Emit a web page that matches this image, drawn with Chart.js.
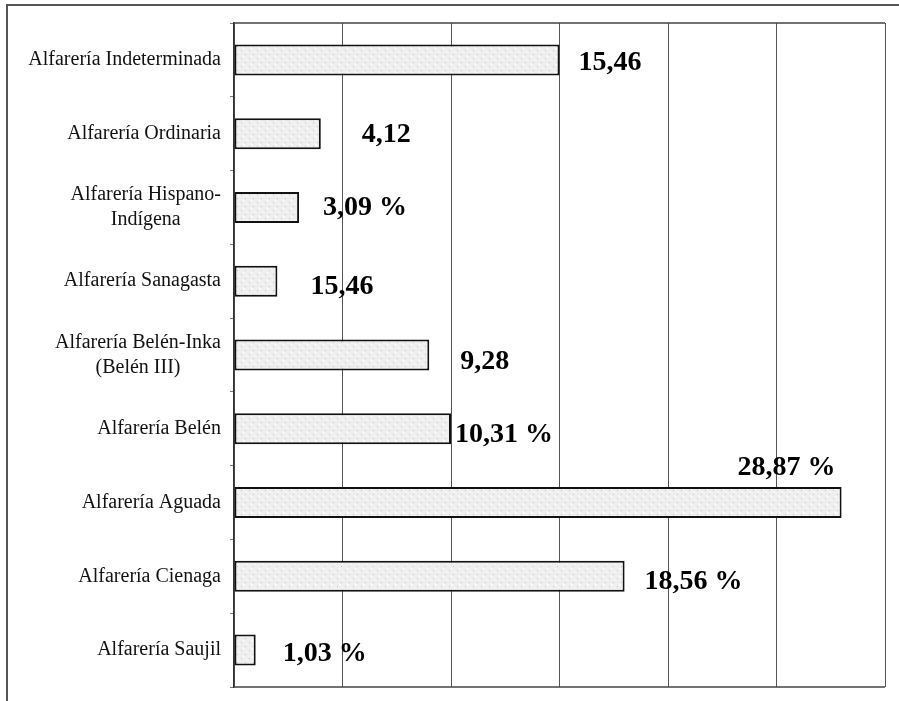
<!DOCTYPE html>
<html lang="es">
<head>
    <meta charset="UTF-8">
    <title>Alfarería</title>
    <script src="https://cdn.jsdelivr.net/npm/chart.js"></script>
    <style>
        body {
            margin: 0;
            background: #fff;
        }
        .frame {
            position: relative;
            width: 899px;
            height: 701px;
        }
        .frame .edge {
            position: absolute;
            left: 6px;
            top: 4px;
            right: 0;
            bottom: 0;
            border-left: 2px solid #555;
            border-top: 2px solid #555;
        }
        canvas {
            position: absolute;
            left: 0;
            top: 0;
        }
    </style>
</head>
<body>
<div class="frame">
    <div class="edge"></div>
    <canvas id="chart" width="899" height="701"></canvas>
</div>

<script>
    // categorías (las líneas separadas se dibujan centradas)
    const categories = [
        ['Alfarería Indeterminada'],
        ['Alfarería Ordinaria'],
        ['Alfarería Hispano-', 'Indígena'],
        ['Alfarería Sanagasta'],
        ['Alfarería Belén-Inka', '(Belén III)'],
        ['Alfarería Belén'],
        ['Alfarería Aguada'],
        ['Alfarería Cienaga'],
        ['Alfarería Saujil']
    ];
    // cantidad de fragmentos (escala 0-30)
    const counts = [15, 4, 3, 2, 9, 10, 28, 18, 1];
    // etiquetas tal como aparecen en la figura
    const valueLabels = ['15,46', '4,12', '3,09 %', '15,46', '9,28', '10,31 %', '28,87 %', '18,56 %', '1,03 %'];
    const axisMax = 30;
    const axisStep = 5;

    // desplazamiento de cada etiqueta respecto al extremo de la barra
    const labelShift = [[19, 3], [41, 1], [24, 0], [33, 6], [31, 7], [4, 6], [-104, -35], [20, 5], [27, 4]];

    function stipple() {
        const c = document.createElement('canvas');
        c.width = 8; c.height = 8;
        const g = c.getContext('2d');
        g.fillStyle = '#efefef';
        g.fillRect(0, 0, 8, 8);
        g.fillStyle = '#c4c4c4';
        g.fillRect(1, 2, 1, 1);
        g.fillRect(5, 6, 1, 1);
        g.fillStyle = '#fafafa';
        g.fillRect(3, 0, 2, 2);
        g.fillRect(6, 3, 1, 2);
        return g.createPattern(c, 'repeat');
    }

    const framePlugin = {
        id: 'framePlugin',
        afterDraw(chart) {
            const ctx = chart.ctx;
            const a = chart.chartArea;
            const y = chart.scales.y;
            ctx.save();
            ctx.strokeStyle = '#444';
            ctx.lineWidth = 1.5;
            ctx.beginPath();
            ctx.moveTo(a.left, a.top); ctx.lineTo(a.right, a.top);
            ctx.moveTo(a.left, a.bottom); ctx.lineTo(a.right, a.bottom);
            ctx.stroke();

            // etiquetas de categoría
            ctx.fillStyle = '#111';
            ctx.font = '20px "Liberation Serif", "Times New Roman", serif';
            ctx.textBaseline = 'middle';
            ctx.textAlign = 'center';
            const lh = 25;
            categories.forEach((lines, i) => {
                const cy = y.getPixelForValue(i);
                const w = Math.max(...lines.map(t => ctx.measureText(t).width));
                const cx = 221 - w / 2;
                const y0 = cy - (lines.length - 1) * lh / 2;
                lines.forEach((t, k) => ctx.fillText(t, cx, y0 + k * lh));
            });

            // etiquetas de valor
            ctx.font = 'bold 28px "Liberation Serif", "Times New Roman", serif';
            ctx.textAlign = 'left';
            ctx.fillStyle = '#000';
            const meta = chart.getDatasetMeta(0);
            meta.data.forEach((bar, i) => {
                const s = labelShift[i];
                ctx.fillText(valueLabels[i], bar.x + s[0], bar.y + s[1]);
            });
            ctx.restore();
        }
    };

    new Chart(document.getElementById('chart'), {
        type: 'bar',
        data: {
            labels: categories.map(l => l.join(' ')),
            datasets: [{
                data: counts,
                backgroundColor: stipple(),
                borderColor: '#111',
                borderWidth: 2,
                borderSkipped: false,
                categoryPercentage: 1,
                barPercentage: 0.42
            }]
        },
        options: {
            indexAxis: 'y',
            responsive: false,
            animation: false,
            layout: { padding: { left: 230, top: 23, right: 14, bottom: 14 } },
            plugins: {
                legend: { display: false },
                tooltip: { enabled: false }
            },
            scales: {
                x: {
                    min: 0,
                    max: axisMax,
                    ticks: { display: false, stepSize: axisStep },
                    grid: { color: '#555', lineWidth: 1, drawTicks: false },
                    border: { display: false },
                    afterFit(s) { s.height = 0; }
                },
                y: {
                    ticks: { display: false },
                    grid: { offset: true, drawOnChartArea: false, tickLength: 4, color: '#777' },
                    border: { color: '#333', width: 1.5 },
                    afterFit(s) { s.width = 4; }
                }
            }
        },
        plugins: [framePlugin]
    });
</script>
</body>
</html>
